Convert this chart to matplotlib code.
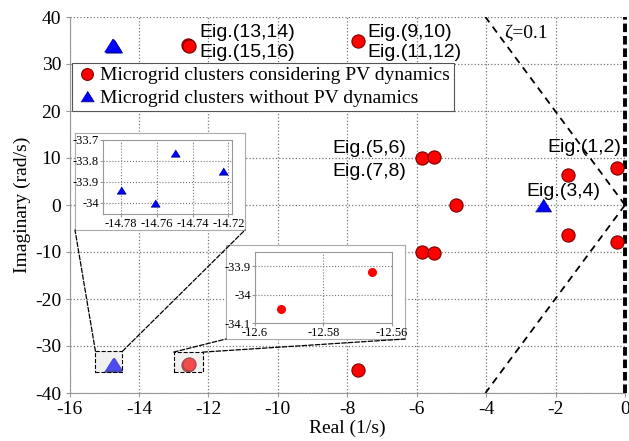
import numpy as np
import matplotlib
matplotlib.use('Agg')
import matplotlib.pyplot as plt
from matplotlib.patches import Rectangle, ConnectionPatch
from matplotlib.lines import Line2D
from matplotlib.ticker import FuncFormatter

plt.rcParams['font.family'] = ['Liberation Serif', 'DejaVu Serif']
plt.rcParams['axes.unicode_minus'] = False

# eigenvalues, microgrid clusters considering PV dynamics
pv_real = [-0.24, -0.24, -1.65, -1.65, -4.88, -5.86, -5.86, -5.51, -5.51,
           -7.68, -7.68, -12.5925, -12.5925, -12.5657, -12.5657]
pv_imag = [7.9, -7.9, 6.4, -6.4, 0.0, 10.0, -10.0, 10.2, -10.2,
           35.0, -35.0, 34.05, -34.05, 33.92, -33.92]

# eigenvalues, microgrid clusters without PV dynamics
nopv_real = [-2.37, -14.78, -14.78, -14.761, -14.761, -14.75, -14.75, -14.723, -14.723]
nopv_imag = [0.0, 33.94, -33.94, 34.0, -34.0, 33.76, -33.76, 33.85, -33.85]

zeta = 0.1

# eigenvalue labels: (text, x, y, alignment)
eig_labels = [('Eig.(13,14)', -12.27, 36.8, 'left'),
              ('Eig.(15,16)', -12.27, 32.5, 'left'),
              ('Eig.(9,10)', -7.41, 36.8, 'left'),
              ('Eig.(11,12)', -7.41, 32.5, 'left'),
              ('Eig.(5,6)', -6.3, 12.1, 'right'),
              ('Eig.(7,8)', -6.3, 7.2, 'right'),
              ('Eig.(1,2)', -2.23, 12.3, 'left'),
              ('Eig.(3,4)', -2.83, 2.8, 'left')]

W, H = 629, 441
fig = plt.figure(figsize=(W / 100, H / 100), dpi=100)
ax = fig.add_axes([69.5 / W, 1 - 393 / H, 555.5 / W, 376 / H])

# triangle a little wider than tall
tri = [(-1, -0.8), (1, -0.8), (0, 0.8)]

red = dict(marker='o', ls='none', color='red', mec='#7a0000', mew=0.8)
blue = dict(marker=tri, ls='none', color='blue', mec='#000080', mew=0.6)

ax.plot(pv_real, pv_imag, ms=9.5, zorder=4, **red)
ax.plot(nopv_real, nopv_imag, ms=11.5, zorder=4, **blue)

# damping ratio boundary
yb = 40
xb = -yb * zeta / np.sqrt(1 - zeta ** 2)
ax.plot([0, xb], [0, yb], 'k--', lw=1.3, dashes=(4, 3), zorder=3)
ax.plot([0, xb], [0, -yb], 'k--', lw=1.3, dashes=(4, 3), zorder=3)
ax.axvline(0, color='k', ls='--', lw=2.8, dashes=(2.2, 1.0), zorder=3, clip_on=False)
ax.text(-3.47, 36.6, '\u03b6=%g' % zeta, fontsize=14, ha='left', va='center')

for txt, x, y, ha in eig_labels:
    ax.text(x, y, txt, fontsize=14, ha=ha, va='center',
            family=['Liberation Sans', 'DejaVu Sans'], zorder=5)

ax.set_xlim(-16, 0)
ax.set_ylim(-40, 40)
ax.set_xticks(np.arange(-16, 1, 2))
ax.set_yticks(np.arange(-40, 41, 10))
ax.grid(True, ls=':', color='#777777', lw=0.9)
ax.set_axisbelow(True)
for s in ['top', 'right']:
    ax.spines[s].set_visible(False)
for s in ['left', 'bottom']:
    ax.spines[s].set_color('#999999')
ax.tick_params(labelsize=14, length=3, color='#999999', pad=3)
ax.set_xlabel('Real (1/s)', fontsize=14, labelpad=1)
ax.set_ylabel('Imaginary (rad/s)', fontsize=14, labelpad=3)

h1 = Line2D([], [], ms=8.5, **red)
h2 = Line2D([], [], ms=9.5, **blue)
leg = ax.legend([h1, h2], ['Microgrid clusters considering PV dynamics',
                           'Microgrid clusters without PV dynamics'],
                loc='upper left', bbox_to_anchor=(0.004, 0.878), fontsize=14,
                fancybox=False, framealpha=1, edgecolor='#555555',
                handletextpad=0.05, handlelength=1.2, borderpad=0.2,
                labelspacing=0.25, borderaxespad=0)
leg.get_frame().set_linewidth(0.8)

# highlight boxes around the two clusters
boxes = [(np.mean(nopv_real[1:]) - 0.5, -35.6, 0.78, 4.5),
         (np.mean(pv_real[11:]) - 0.42, -35.6, 0.84, 4.3)]
for bx, by, bw, bh in boxes:
    ax.add_patch(Rectangle((bx, by), bw, bh, facecolor='#d8d8d8', alpha=0.35,
                           edgecolor='none', zorder=6))
    ax.add_patch(Rectangle((bx, by), bw, bh, facecolor='none', edgecolor='k',
                           ls='--', lw=0.8, zorder=6))

fmt = FuncFormatter(lambda v, p: '%g' % round(v, 3))


def zoom_inset(outer_pos, inner_pos):
    outer = fig.add_axes(outer_pos)
    outer.set_xticks([])
    outer.set_yticks([])
    for s in outer.spines.values():
        s.set_color('#aaaaaa')
    inner = fig.add_axes(inner_pos)
    for s in inner.spines.values():
        s.set_color('#999999')
    inner.grid(True, ls=':', color='#777777', lw=0.8)
    inner.set_axisbelow(True)
    inner.tick_params(labelsize=9, length=2, color='#999999', pad=1)
    inner.xaxis.set_major_formatter(fmt)
    inner.yaxis.set_major_formatter(fmt)
    return outer, inner


# zoom of the cluster without PV dynamics
out1, in1 = zoom_inset([75 / W, 1 - 230 / H, 170 / W, 97 / H],
                       [103 / W, 1 - 214 / H, 129 / W, 74 / H])
in1.plot(nopv_real[1:], nopv_imag[1:], ms=6.5, **blue)
in1.set_xlim(-14.79, -14.718)
in1.set_ylim(-34.053, -33.7)
in1.set_xticks([-14.78, -14.76, -14.74, -14.72])
in1.set_yticks([-34, -33.9, -33.8, -33.7])

# zoom of the cluster considering PV dynamics
out2, in2 = zoom_inset([226 / W, 1 - 339 / H, 179 / W, 94 / H],
                       [255 / W, 1 - 323 / H, 137 / W, 71 / H])
in2.plot(pv_real[11:], pv_imag[11:], ms=5.5, marker='o', ls='none',
         color='red', mec='red')
in2.set_xlim(-12.6, -12.56)
in2.set_ylim(-34.1, -33.85)
in2.set_xticks([-12.6, -12.58, -12.56])
in2.set_yticks([-34.1, -34, -33.9])

# leader lines from boxes to insets
for (bx, by, bw, bh), out in zip(boxes, [out1, out2]):
    for xa, xo in [(bx, 0), (bx + bw, 1)]:
        con = ConnectionPatch(xyA=(xa, by + bh), coordsA=ax.transData,
                              xyB=(xo, 0), coordsB=out.transAxes,
                              ls='--', lw=0.9, color='k')
        fig.add_artist(con)

fig.savefig('out.png', dpi=100)
